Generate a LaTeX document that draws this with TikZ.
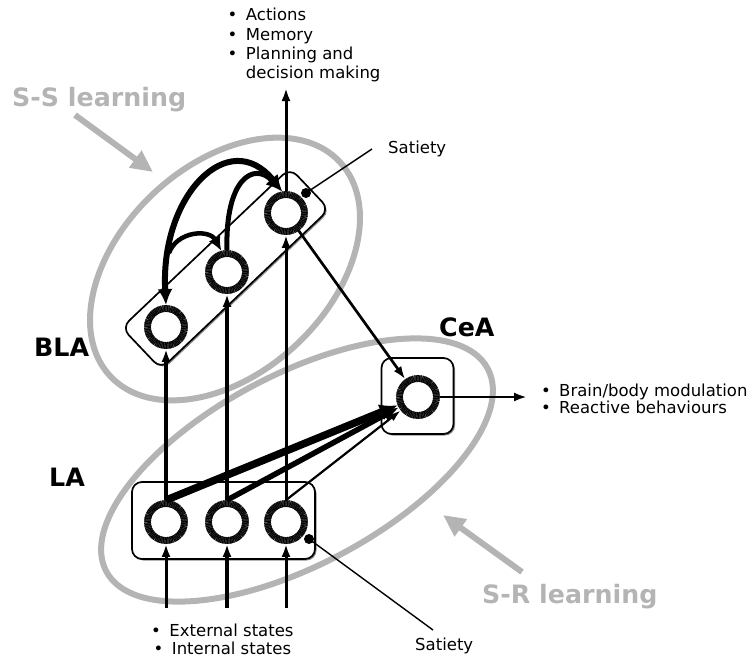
\documentclass[tikz,border=0pt]{standalone}
\usepackage{fontspec}
\setmainfont{DejaVu Sans}
\usetikzlibrary{arrows.meta,shadows}
\definecolor{lgray}{RGB}{180,180,180}
\begin{document}
\begin{tikzpicture}[x=1pt,y=-1pt,
  neuron/.style={circle, draw=black!50, fill=white, line width=6.8pt, minimum size=37pt, inner sep=0pt,
     postaction={draw=black, line width=6.8pt, dash pattern=on 1pt off 0.5pt}},
  boxs/.style={draw=black, line width=1.7pt, rounded corners=10pt, fill=white, inner sep=0pt,
     drop shadow={shadow xshift=1.5pt, shadow yshift=-1.5pt, fill=black!45, opacity=1}},
  grayell/.style={draw=lgray, line width=6pt},
  grayarr/.style={draw=lgray, line width=6pt, -{Triangle[length=22pt,width=20pt]}},
  txt/.style={font=\fontsize{16.5}{19.4}\selectfont, inner sep=0pt},
  txtb/.style={font=\fontsize{16.5}{17.3}\selectfont, inner sep=0pt},
  bigtxt/.style={font=\fontsize{25.3}{29}\selectfont\bfseries, inner sep=0pt},
  satline/.style={line width=1.4pt},
  satdot/.style={circle, fill=black, minimum size=10pt, inner sep=0pt},
  upline/.style={line width=#1, -{Latex[length=13pt,width=9pt]}},
]
\useasboundingbox (0,0) rectangle (752,659);

% gray ellipses
\draw[grayell, rotate around={43:(225,269)}] (225,269) ellipse [x radius=157pt, y radius=104pt];
\draw[grayell, rotate around={28:(297,470)}] (297,470) ellipse [x radius=216pt, y radius=95pt];

% boxes
\node[boxs, minimum width=232pt, minimum height=57pt, rotate=43.5] (blabox) at (225.5,268.5) {};
\node[boxs, minimum width=183pt, minimum height=77pt] (labox) at (223.5,520.5) {};
\node[boxs, minimum width=72pt, minimum height=76pt] (ceabox) at (417.5,396) {};

% satiety dots
\node[satdot] (d1) at (306,193) {};
\node[satdot] (d2) at (309,539) {};

% neurons
\node[neuron] (b1) at (166,327) {};
\node[neuron] (b2) at (227,272) {};
\node[neuron] (b3) at (286,213) {};
\node[neuron] (n1) at (166,522) {};
\node[neuron] (n2) at (227,522) {};
\node[neuron] (n3) at (286,522) {};
\node[neuron] (c) at (418,397) {};

% coordinates
\coordinate (i1) at (166,608);
\coordinate (i2) at (227,608);
\coordinate (i3) at (286,608);
\coordinate (top) at (286,88);
\coordinate (out) at (527,397);
\coordinate (s1) at (372,149);
\coordinate (s2) at (433,630);
\coordinate (ssa) at (75,115);
\coordinate (ssb) at (153,172);
\coordinate (sra) at (522,572);
\coordinate (srb) at (443,515);

% inputs
\draw[upline=3pt] (i1) -- (n1.south);
\draw[upline=4pt] (i2) -- (n2.south);
\draw[upline=3pt] (i3) -- (n3.south);
% LA -> BLA
\draw[upline=4.3pt] (n1.north) -- (b1.south);
\draw[upline=4.3pt] (n2.north) -- (b2.south);
\draw[upline=3pt] (n3.north) -- (b3.south);
% BLA output
\draw[upline=3pt] (b3.north) -- (top);
% LA -> CeA
\draw[line width=7.5pt, -{Latex[length=18pt,width=17pt]}] (n1.north) -- (c);
\draw[line width=5.5pt, -{Latex[length=16pt,width=14pt]}] (n2.north) -- (c);
\draw[line width=2.2pt, -{Latex[length=12pt,width=8pt]}] (n3.north) -- (c);
% BLA -> CeA
\draw[line width=2.7pt, -{Latex[length=13pt,width=9pt]}] (b3) -- (c);
% CeA output
\draw[line width=2.5pt, -{Latex[length=13pt,width=9pt]}] (c.east) -- (out);

% BLA recurrent arcs
\draw[line width=6pt, {Latex[length=16pt,width=15pt]}-{Latex[length=16pt,width=15pt]}]
  (b1.north) .. controls +(-6,-110) and +(-53,-66) .. coordinate[pos=0.17] (a1) (b3.100);
\draw[line width=5pt, -{Latex[length=16pt,width=15pt]}]
  (b2.north) .. controls +(-2,-72) and +(-28,-30) .. (b3.100);
\draw[line width=4.5pt, -{Latex[length=14pt,width=13pt]}]
  (a1) .. controls +(8,-22) and +(-12,-22) .. (b2.105);

% satiety
\draw[satline] (d1.center) -- (s1);
\draw[satline] (d2.center) -- (s2);
\node[txt, anchor=base west] (sat1) at (388,153.3) {Satiety};
\node[txt, anchor=base west] (sat2) at (415,650.7) {Satiety};

% gray learning arrows
\draw[grayarr] (ssa) -- (ssb);
\draw[grayarr] (sra) -- (srb);

% texts
\node[txt, anchor=base west] (outtxt) at (227.5,20.7) {\begin{tabular}[t]{@{}l@{\hspace{8.5pt}}l@{}}•&Actions\\•&Memory\\•&Planning and\\&decision making\end{tabular}};
\node[txtb, anchor=base west] (modtxt) at (540.8,396) {\begin{tabular}[t]{@{}l@{\hspace{8.5pt}}l@{}}•&Brain/body modulation\\•&Reactive behaviours\end{tabular}};
\node[txtb, anchor=base] (intxt) at (222.4,636.7) {\begin{tabular}[t]{@{}c@{}}•\hspace{8.5pt}External states\\•\hspace{8.5pt}Internal states\end{tabular}};

\node[bigtxt, text=lgray, anchor=base west] (sslab) at (12,106.7) {S-S learning};
\node[bigtxt, text=lgray, anchor=base west] (srlab) at (482,603.3) {S-R learning};
\node[bigtxt, anchor=base west] (blalab) at (34,356) {BLA};
\node[bigtxt, anchor=base west] (lalab) at (49,486.7) {LA};
\node[bigtxt, anchor=base west] (cealab) at (439,336.7) {CeA};
\end{tikzpicture}
\end{document}
